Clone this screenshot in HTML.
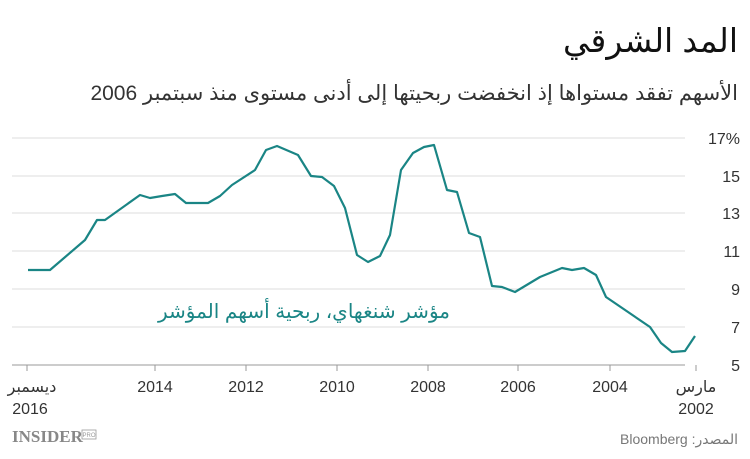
<!DOCTYPE html>
<html><head><meta charset="utf-8"><style>
body{margin:0;background:#fff;width:750px;height:454px;overflow:hidden;font-family:"Liberation Sans","Noto Sans CJK SC",sans-serif}
</style></head><body>
<svg width="750" height="454" xmlns="http://www.w3.org/2000/svg" font-family="Liberation Sans, DejaVu Sans, sans-serif">
<text x="738" y="52" text-anchor="start" direction="rtl" font-size="33" fill="#111">المد الشرقي</text>
<text x="738" y="100" text-anchor="start" direction="rtl" font-size="21" fill="#333">الأسهم تفقد مستواها إذ انخفضت ربحيتها إلى أدنى مستوى منذ سبتمبر 2006</text>
<g stroke="#ddd" stroke-width="1">
<line x1="12" y1="138" x2="685" y2="138"/><line x1="12" y1="176" x2="685" y2="176"/>
<line x1="12" y1="213" x2="685" y2="213"/><line x1="12" y1="251" x2="685" y2="251"/>
<line x1="12" y1="289" x2="685" y2="289"/><line x1="12" y1="327" x2="685" y2="327"/>
</g>
<line x1="12" y1="365" x2="685" y2="365" stroke="#999"/>
<g stroke="#999"><line x1="27" y1="365" x2="27" y2="371"/><line x1="155" y1="365" x2="155" y2="371"/><line x1="246" y1="365" x2="246" y2="371"/><line x1="337" y1="365" x2="337" y2="371"/><line x1="428" y1="365" x2="428" y2="371"/><line x1="518" y1="365" x2="518" y2="371"/><line x1="610" y1="365" x2="610" y2="371"/><line x1="696" y1="365" x2="696" y2="371"/></g>
<g font-size="16" fill="#333" text-anchor="end">
<text x="740" y="144">17%</text><text x="740" y="182">15</text><text x="740" y="219">13</text><text x="740" y="257">11</text><text x="740" y="295">9</text><text x="740" y="333">7</text><text x="740" y="371">5</text>
</g>
<g font-size="16" fill="#333" text-anchor="middle">
<text x="32" y="392">ديسمبر</text><text x="30" y="414">2016</text>
<text x="155" y="392">2014</text><text x="246" y="392">2012</text><text x="337" y="392">2010</text><text x="428" y="392">2008</text><text x="518" y="392">2006</text><text x="610" y="392">2004</text>
<text x="696" y="392">مارس</text><text x="696" y="414">2002</text>
</g>
<polyline fill="none" stroke="#1a8585" stroke-width="2.2" stroke-linejoin="round" points="28,270 50,270 85,240 97,220 105,220 140,195 150,198 162,196 175,194 186,203 208,203 220,196 232,185 255,170 266,150 277,146 298,155 311,176 322,177 334,186 345,208 357,255 368,262 380,256 390,235 401,170 413,153 424,147 434,145 447,190 457,192 469,233 480,237 492,286 502,287 515,292 540,277 562,268 572,270 584,268 596,275 606,297 650,327 661,343 672,352 685,351 695,336"/>
<text x="450" y="318" text-anchor="start" direction="rtl" font-size="20" fill="#1a8585">مؤشر شنغهاي، ربحية أسهم المؤشر</text>
<text x="12" y="442" font-family="Liberation Serif, serif" font-weight="bold" font-size="17" fill="#888">INSIDER</text>
<rect x="82" y="430" width="14" height="9" fill="none" stroke="#999" stroke-width="0.8"/>
<text x="89" y="437" font-size="6" fill="#999" text-anchor="middle">PRO</text>
<text x="738" y="444" text-anchor="start" direction="rtl" font-size="14" fill="#777">المصدر: Bloomberg</text>
</svg>
</body></html>
